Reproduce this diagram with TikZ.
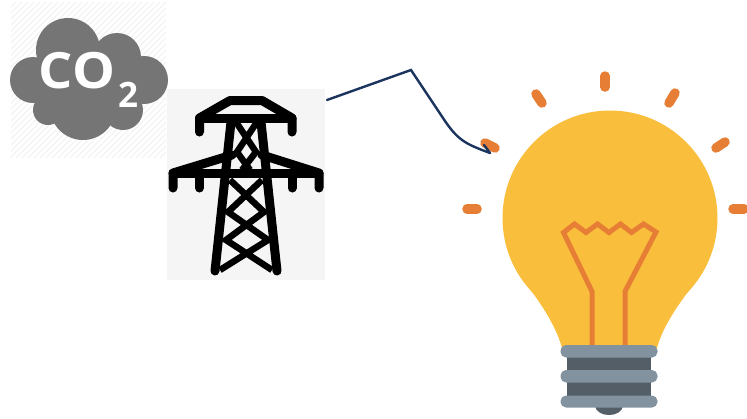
\documentclass[tikz,border=0pt]{standalone}
\usepackage{fontspec}
\setmainfont{Open Sans}
\usetikzlibrary{arrows.meta}
\definecolor{cloudgray}{HTML}{757575}
\definecolor{hatch}{HTML}{F3F3F3}
\definecolor{towerbg}{HTML}{F5F5F5}
\definecolor{bulbyellow}{HTML}{F9BE3C}
\definecolor{rayorange}{HTML}{E67E35}
\definecolor{basegray}{HTML}{82939F}
\definecolor{basedark}{HTML}{535E66}
\definecolor{navy}{HTML}{1B355E}
\tikzset{
  towerline/.style={line width=9pt,line cap=round,line join=round,black},
  lattice/.style={line width=6.5pt,line cap=butt,black},
  ray/.style={line width=9.5pt,line cap=round,rayorange},
  baseband/.style={fill=basegray,rounded corners=5.5pt},
  filament/.style={line width=5pt,line join=miter,rayorange},
  connector/.style={line width=2.4pt,navy,line join=miter,line cap=round},
  cloudtext/.style={white,inner sep=0pt,font=\bfseries\fontsize{50}{50}\selectfont}
}
\begin{document}
\begin{tikzpicture}[x=1pt,y=-1pt]
\useasboundingbox (0,0) rectangle (747,418);
% hatched backdrop of the cloud
\begin{scope}
  \clip (11,2) rectangle (166,157);
  \foreach \i in {0,6,...,320}{\draw[hatch,line width=1.2pt] (\i,0) -- (\i-160,160);}
\end{scope}
% cloud
\foreach \cx/\cy/\r in {68/50/32,117/57/24,144/80/24,123/110/20,83/107/33,48/110/15,33/80/23}
  {\fill[cloudgray] (\cx,\cy) circle (\r);}
\fill[cloudgray] (40,55) rectangle (140,105);
\node[cloudtext,xscale=1.08,transform shape] (co) at (77,71) {CO};
\node[cloudtext,font=\bfseries\fontsize{35}{35}\selectfont] (two) at (128,95) {2};
% pylon
\node[fill=towerbg,inner sep=0pt,minimum width=158pt,minimum height=191pt] (towerbox) at (246,184.5) {};
\draw[towerline] (199.5,132) -- (199.5,118) -- (230,100.5) -- (262,100.5) -- (292,118) -- (292,132);
\draw[towerline] (199.5,118) -- (292,118);
\draw[towerline] (173,188) -- (173,173) -- (232,155) (319,188) -- (319,173) -- (262,155);
\draw[towerline] (173,173) -- (319,173);
\draw[towerline] (199.5,188) -- (199.5,173) (292,188) -- (292,173);
\draw[towerline] (215,271) -- (231,122) (277,271) -- (261,122);
\draw[lattice] (236,122) -- (256,152) -- (242,170) (257,122) -- (237,152) -- (250,170);
\draw[lattice] (230,180) -- (264,212) -- (226,240) -- (272,270)
  (262,180) -- (228,212) -- (268,240) -- (220,270);
% bulb
\draw[ray] (605,76) -- (605,87);
\draw[ray] (536,94) -- (542,103);
\draw[ray] (675,93) -- (669,103);
\draw[ray] (485,143) -- (495,148);
\draw[ray] (725,142) -- (716,148);
\draw[ray] (467,209) -- (477,209);
\draw[ray] (733,209) -- (744,209);
\fill[bulbyellow] (610,218) circle (107.5);
\fill[bulbyellow] (525,283) .. controls (538,299) and (556,325) .. (562,348)
  -- (657,348) .. controls (663,325) and (682,299) .. (695,283) -- cycle;
\draw[filament] (592,345) -- (592,291.5) -- (563.5,232.5) -- (574.5,224) -- (586,232.5)
  -- (597.5,224) -- (609,232.5) -- (620.5,224) -- (631.5,232.5) -- (643.5,224) -- (656,232) -- (625,291.5) -- (625,345);
\fill[basedark] (566.5,350) rectangle (651,405);
\fill[basedark] (594.5,405) .. controls (596,412) and (602,415) .. (609,415)
  .. controls (616,415) and (622,412) .. (623.5,405) -- cycle;
\fill[baseband] (560.5,345) rectangle (657.5,357.5);
\fill[baseband] (560.5,370) rectangle (657.5,382.5);
\fill[baseband] (560.5,395.5) rectangle (657.5,407.5);
% connector
\coordinate (start) at (327,100);
\coordinate (bend) at (411,70);
\coordinate (tip) at (490,153);
\coordinate (barb) at (484,145);
\draw[connector] (start) -- (bend) -- (443,118) .. controls (458,141) and (466,144) .. (tip);
\draw[connector] (barb) -- (tip);
\end{tikzpicture}
\end{document}
